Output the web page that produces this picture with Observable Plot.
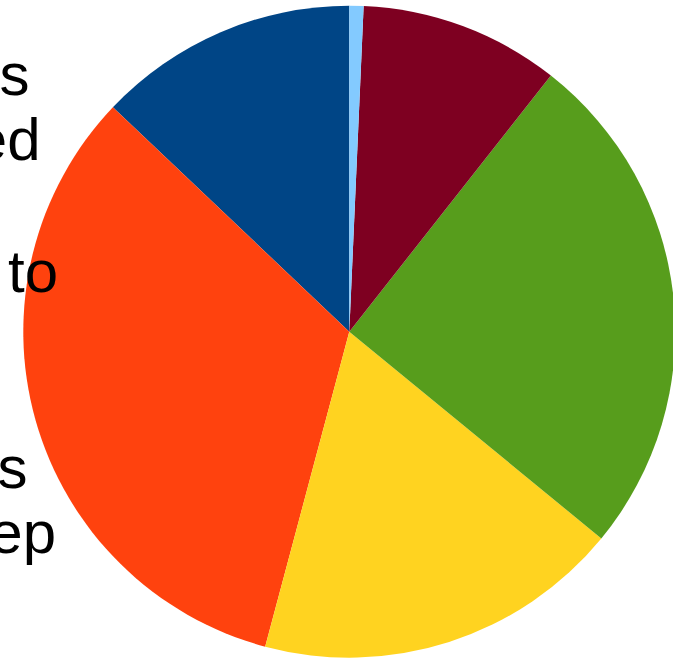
<!DOCTYPE html>
<html>
<head>
<meta charset="utf-8">
<script src="https://cdn.jsdelivr.net/npm/d3@7"></script>
<script src="https://cdn.jsdelivr.net/npm/@observablehq/plot@0.6"></script>
<style>
  html, body { margin: 0; padding: 0; background: #ffffff; }
  #chart { width: 673px; height: 661px; overflow: hidden; }
</style>
</head>
<body>
<div id="chart"></div>
<script>
// Slice data, counter-clockwise from 12 o'clock (percent of total)
const categories = ["A", "B", "C", "D", "E", "F"];
const values = [12.9, 32.9, 18.2, 25.3, 9.9, 0.7];
const colors = ["#004586", "#ff420e", "#ffd320", "#579d1c", "#7e0021", "#83caff"];

// Legend text (only the right-hand ends are visible in the frame)
const legendLines = ["tasks", "completed", "time to", "hours", "sleep"];

// Layout (pixels) for the legend lines: right edge and baseline
const legendLayout = [
  {right: 29, baseline: 94},
  {right: 40, baseline: 159},
  {right: 57.5, baseline: 291},
  {right: 27, baseline: 487},
  {right: 55.5, baseline: 552}
];

const slices = categories.map((c, i) => ({category: c, value: values[i], color: colors[i]}));
const pie = d3.pie().sort(null).value(d => d.value).startAngle(0).endAngle(-2 * Math.PI);

function pieMark(index, scales) {
  const cx = scales.x(0), cy = scales.y(0);
  const r = Math.abs(scales.x(1) - scales.x(0));
  const arc = d3.arc().innerRadius(0).outerRadius(r);
  const g = d3.create("svg:g").attr("transform", `translate(${cx},${cy})`);
  g.selectAll("path")
    .data(pie(slices))
    .join("path")
    .attr("d", arc)
    .attr("fill", d => d.data.color);
  return g.node();
}

const textMarks = legendLines.map((t, i) =>
  Plot.text([t], {
    frameAnchor: "top-left",
    dx: legendLayout[i].right,
    dy: legendLayout[i].baseline,
    textAnchor: "end",
    lineAnchor: "bottom",
    fontSize: 60,
    fontFamily: "Liberation Sans, Arial, sans-serif",
    fill: "#000000"
  })
);

const chart = Plot.plot({
  width: 673,
  height: 661,
  margin: 0,
  style: {background: "#ffffff", overflow: "hidden"},
  x: {domain: [-1, 1], range: [349.3 - 326, 349.3 + 326], axis: null},
  y: {domain: [-1, 1], range: [331.7 + 326, 331.7 - 326], axis: null},
  marks: [
    Plot.dot([-1, 1], {x: d => d, y: d => d, r: 0}),
    pieMark,
    ...textMarks
  ]
});

document.getElementById("chart").appendChild(chart);
</script>
</body>
</html>
